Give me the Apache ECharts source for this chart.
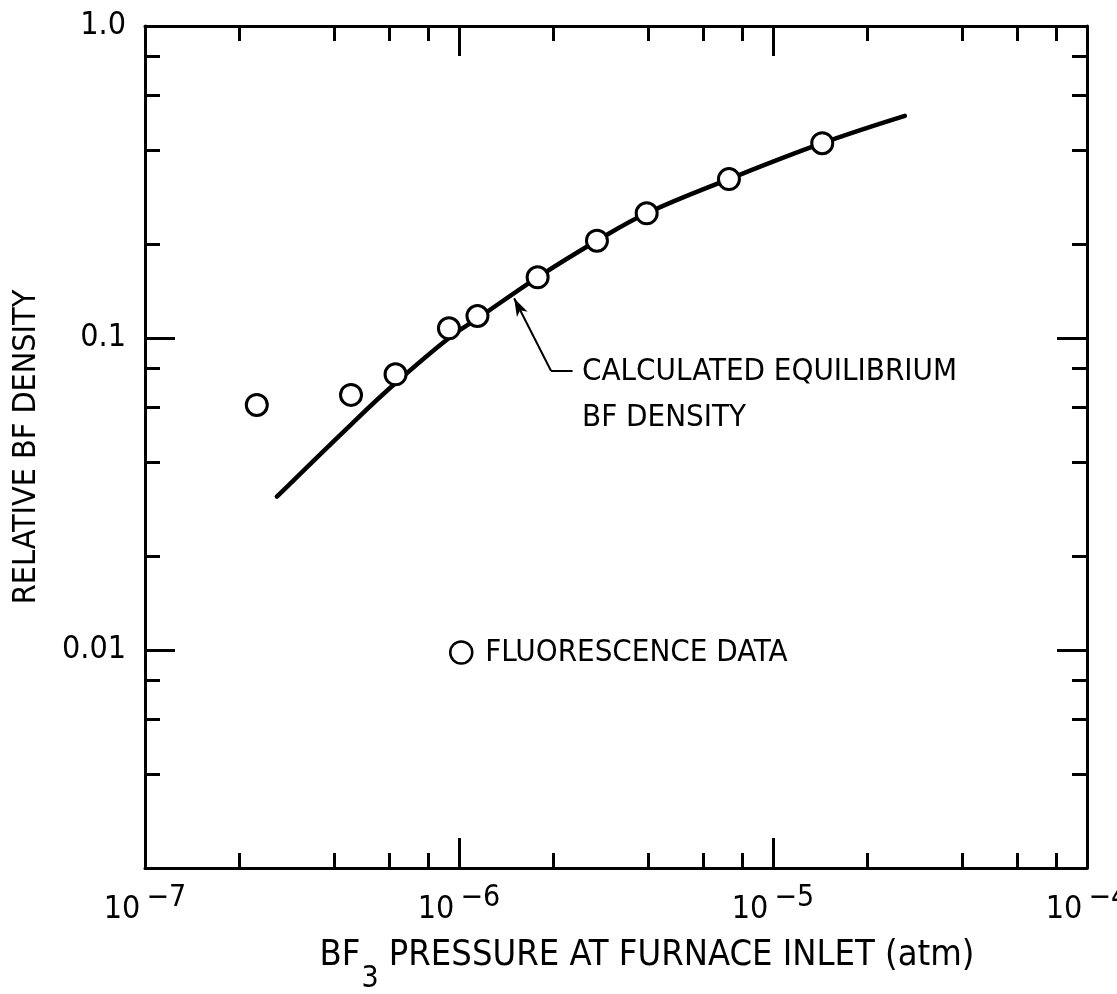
<!DOCTYPE html>
<html>
<head>
<meta charset="utf-8">
<script src="https://cdn.jsdelivr.net/npm/echarts@6/dist/echarts.min.js"></script>
<style>
html, body {margin: 0; padding: 0; background: #fff;}
#chart {width: 1117px; height: 994px;}
</style>
</head>
<body>
<div id="chart"></div>
<script>
//----------------------Data----------------------
// fluorescence measurements
let pressure_points = [2.27e-7, 4.53e-7, 6.28e-7, 9.29e-7, 1.145e-6, 1.78e-6, 2.75e-6, 3.96e-6, 7.24e-6, 1.435e-5];
let density_points  = [0.061, 0.0657, 0.0765, 0.1074, 0.1176, 0.1565, 0.205, 0.251, 0.323, 0.421];
// calculated equilibrium curve
let pressure_curve = [2.63e-7, 4.53e-7, 6.28e-7, 9.29e-7, 1.145e-6, 1.78e-6, 2.75e-6, 3.96e-6, 7.24e-6, 1.435e-5, 2.63e-5];
let density_curve  = [0.031, 0.0528, 0.0717, 0.100, 0.1154, 0.1565, 0.205, 0.251, 0.323, 0.421, 0.515];
// ticks
let x_major_ticks = [1e-7, 1e-6, 1e-5, 1e-4];
let x_tick_exponents = ['−7', '−6', '−5', '−4'];
let x_minor_ticks = [2e-7, 4e-7, 6e-7, 8e-7, 2e-6, 4e-6, 6e-6, 8e-6, 2e-5, 4e-5, 6e-5, 8e-5];
let y_major_ticks = [0.01, 0.1, 1];
let y_tick_labels = ['0.01', '0.1', '1.0'];
let y_minor_ticks = [0.004, 0.006, 0.008, 0.02, 0.04, 0.06, 0.08, 0.2, 0.4, 0.6, 0.8];
// annotation arrow: [tail end, elbow, tip]
let arrow_x = [2.30e-6, 1.963e-6, 1.498e-6];
let arrow_y = [0.0785, 0.0785, 0.134];

//--------------------Style--------------------
let font = '"Liberation Sans Narrow", "DejaVu Sans Condensed", sans-serif';
let black = '#000';
let axis_line = {show: true, onZero: false, lineStyle: {color: black, width: 3}};
let no_split = {show: false};

function find_index(list, v) {
    for (let i = 0; i < list.length; i++) {
        if (Math.abs(Math.log10(v) - Math.log10(list[i])) < 1e-6) return i;
    }
    return -1;
}

function make_x_axis(grid, pos, ticks, len, labels) {
    return {
        type: 'log', logBase: 10, gridIndex: grid, position: pos,
        min: 1e-7, max: 1e-4,
        axisLine: grid === 0 ? axis_line : {show: false},
        axisTick: {show: true, inside: true, length: len, customValues: ticks,
            lineStyle: {color: black, width: 3}},
        minorTick: {show: false},
        splitLine: no_split,
        axisLabel: labels ? {
            show: true,
            customValues: x_major_ticks,
            margin: 15,
            formatter: function (v) {
                return '{b|10}{s|' + x_tick_exponents[find_index(x_major_ticks, v)] + '}';
            },
            rich: {
                b: {fontSize: 32, fontFamily: font, color: black, verticalAlign: 'bottom'},
                s: {fontSize: 30, fontFamily: font, color: black, verticalAlign: 'bottom',
                    padding: [0, 0, 13, 6]}
            }
        } : {show: false},
        name: labels ? '{t|BF}{sub|3}{t| PRESSURE AT FURNACE INLET (atm)}' : '',
        nameLocation: 'middle',
        nameGap: 70,
        nameTextStyle: {
            padding: [0, 0, 0, 62],
            rich: {
                t: {fontSize: 36, fontFamily: font, color: black, verticalAlign: 'top'},
                sub: {fontSize: 30, fontFamily: font, color: black, verticalAlign: 'top',
                    padding: [26, 0, 0, 1]}
            }
        }
    };
}

function make_y_axis(grid, pos, ticks, len, labels) {
    return {
        type: 'log', logBase: 10, gridIndex: grid, position: pos,
        min: 0.002, max: 1,
        axisLine: grid === 0 ? axis_line : {show: false},
        axisTick: {show: true, inside: true, length: len, customValues: ticks,
            lineStyle: {color: black, width: 3}},
        minorTick: {show: false},
        splitLine: no_split,
        axisLabel: labels ? {
            show: true,
            customValues: y_major_ticks,
            margin: 19,
            fontSize: 32, fontFamily: font, color: black,
            formatter: function (v) {
                return y_tick_labels[find_index(y_major_ticks, v)];
            }
        } : {show: false},
        name: labels ? 'RELATIVE BF DENSITY' : '',
        nameLocation: 'middle',
        nameGap: 102,
        nameTextStyle: {fontSize: 32, fontFamily: font, color: black}
    };
}

//--------------------Grid--------------------
let grid_box = {left: 145, right: 30, top: 26, bottom: 126, outerBoundsMode: 'none', containLabel: false};

//--------------------Series--------------------
let curve_data = pressure_curve.map(function (p, i) { return [p, density_curve[i]]; });
let point_data = pressure_points.map(function (p, i) { return [p, density_points[i]]; });

let curve_series = {
    name: 'CALCULATED EQUILIBRIUM BF DENSITY',
    type: 'line',
    xAxisIndex: 0, yAxisIndex: 0,
    data: curve_data,
    smooth: 0.4,
    showSymbol: false,
    symbol: 'none',
    lineStyle: {color: black, width: 4.5, cap: 'round'},
    z: 2,
    markLine: {
        silent: true,
        animation: false,
        symbolSize: [9, 18],
        label: {show: false},
        lineStyle: {color: black, width: 2, type: 'solid'},
        data: [
            [{coord: [arrow_x[0], arrow_y[0]], symbol: 'none'}, {coord: [arrow_x[1], arrow_y[1]], symbol: 'none'}],
            [{coord: [arrow_x[1], arrow_y[1]], symbol: 'none'}, {coord: [arrow_x[2], arrow_y[2]], symbol: 'arrow'}]
        ]
    }
};

let point_series = {
    name: 'FLUORESCENCE DATA',
    type: 'scatter',
    xAxisIndex: 0, yAxisIndex: 0,
    data: point_data,
    symbol: 'circle',
    symbolSize: 21,
    itemStyle: {color: '#fff', borderColor: black, borderWidth: 3, opacity: 1},
    z: 3
};

//--------------------Legend--------------------
let legend = {
    data: ['FLUORESCENCE DATA'],
    left: 444, top: 632,
    orient: 'vertical',
    icon: 'circle',
    itemWidth: 22, itemHeight: 22,
    itemStyle: {color: '#fff', borderColor: black, borderWidth: 2.5},
    textStyle: {fontSize: 31, fontFamily: font, color: black, padding: [0, 0, 0, 8]},
    selectedMode: false
};

//--------------------Annotation--------------------
let graphic = [{
    type: 'text',
    left: 582, top: 349,
    style: {
        text: 'CALCULATED EQUILIBRIUM\nBF DENSITY',
        font: '31px ' + font,
        lineHeight: 46,
        fill: black
    }
}];

//------------------Generate Graph------------------
let chart = echarts.init(document.getElementById('chart'), null, {renderer: 'canvas'});
let option = {
    backgroundColor: '#fff',
    animation: false,
    textStyle: {fontFamily: font, color: black},
    grid: [grid_box, Object.assign({}, grid_box)],
    xAxis: [
        make_x_axis(0, 'bottom', x_major_ticks, 30, true),
        make_x_axis(0, 'top', x_major_ticks, 30, false),
        make_x_axis(1, 'bottom', x_minor_ticks, 15, false),
        make_x_axis(1, 'top', x_minor_ticks, 15, false)
    ],
    yAxis: [
        make_y_axis(0, 'left', y_major_ticks, 30, true),
        make_y_axis(0, 'right', y_major_ticks, 30, false),
        make_y_axis(1, 'left', y_minor_ticks, 15, false),
        make_y_axis(1, 'right', y_minor_ticks, 15, false)
    ],
    legend: legend,
    series: [curve_series, point_series],
    graphic: graphic
};
chart.setOption(option, true);
</script>
</body>
</html>
